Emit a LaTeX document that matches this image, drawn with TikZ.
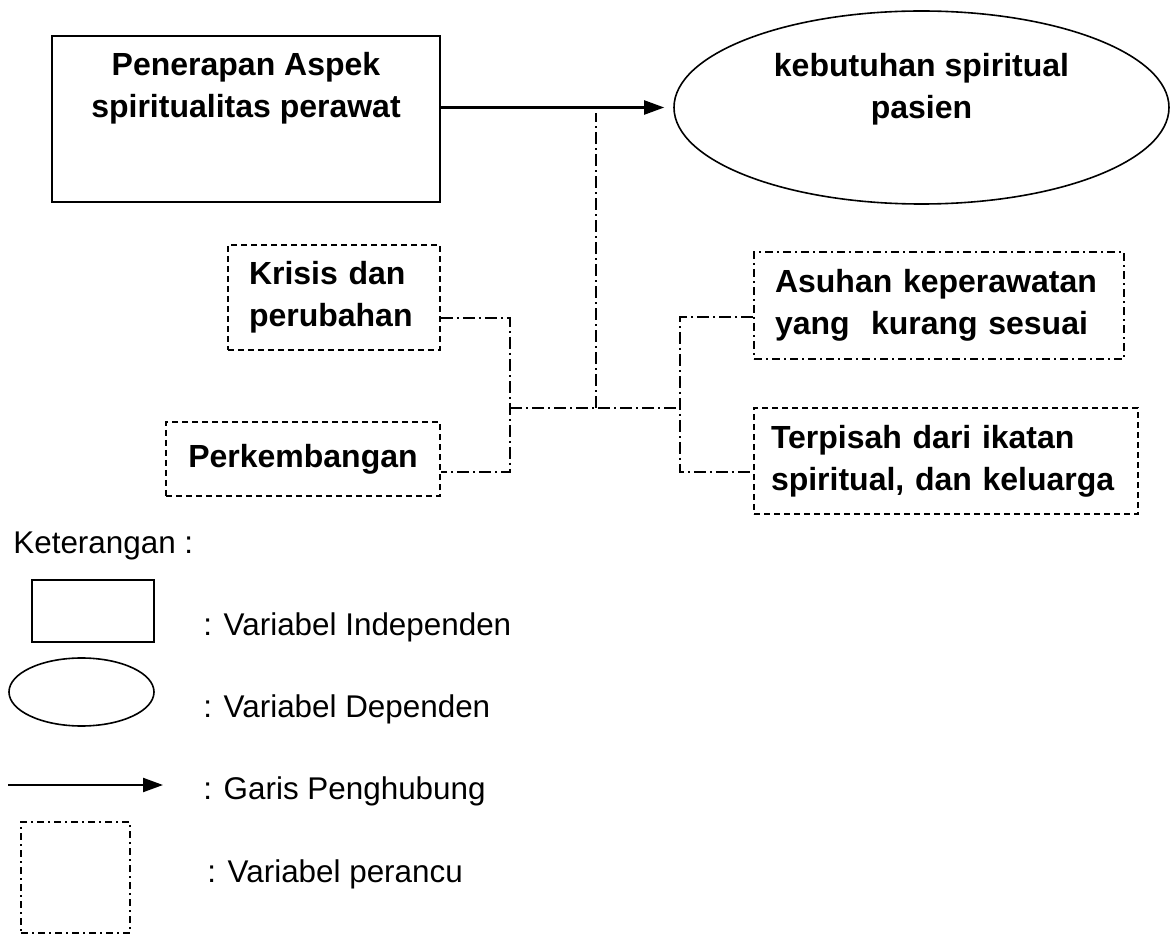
\documentclass[tikz,border=0pt]{standalone}
\usepackage{fontspec}
\setmainfont{Liberation Sans}
\usetikzlibrary{positioning,shapes.geometric,arrows.meta}

\tikzset{
    boxtext/.style={font=\bfseries\fontsize{16}{21}\selectfont, inner sep=0pt},
    legtext/.style={font=\fontsize{15.7}{19}\selectfont, inner sep=0pt, anchor=base west},
    dashbox/.style={draw, line width=0.9pt, dash pattern=on 3pt off 2pt,
        font=\bfseries\fontsize{16}{21}\selectfont, inner ysep=0pt, inner xsep=10.5pt},
    dotbox/.style={draw, line width=0.9pt, dash pattern=on 4pt off 2pt on 1pt off 2pt,
        font=\bfseries\fontsize{16}{21}\selectfont, inner ysep=0pt, inner xsep=10.5pt},
    dashdot/.style={line width=0.9pt, dash pattern=on 6pt off 2pt on 1pt off 2pt},
    link/.style={line width=1.1pt, -{Triangle[length=10pt,width=7pt]}}
}

\begin{document}
\begin{tikzpicture}[x=0.5pt, y=-0.5pt]
    \useasboundingbox (0,0) rectangle (1174,936);
    % Independent and dependent variables
    \node[draw, line width=1pt, minimum width=194pt, minimum height=83pt] (main) at (246,119) {};
    \node[boxtext, align=center, below=8.5pt of main.north] (maintext) {Penerapan Aspek\\spiritualitas perawat};
    \node[draw, ellipse, line width=0.8pt, minimum width=247.5pt, minimum height=96.5pt] (dep) at (921.5,107.5) {};
    \node[boxtext, align=center, below=21.5pt of dep.north] (deptext) {kebutuhan spiritual\\pasien};
    \draw[link, shorten >=4.5pt] (main.east |- dep.west) -- (dep.west);
    % Confounding variables
    \node[dashbox, text width=85pt, align=left, minimum width=106pt, minimum height=52.5pt] (krisis) at (334,297.5) {Krisis dan\\perubahan};
    \node[dashbox, align=center, minimum width=137pt, minimum height=37pt] (perk) at (303,459) {Perkembangan};
    \node[dotbox, text width=164pt, align=left, minimum width=185pt, minimum height=53.5pt] (asuhan) at (939,305.5) {Asuhan keperawatan\\yang \ kurang sesuai};
    \node[dashbox, text width=175pt, inner xsep=8.5pt, align=left, minimum width=192pt, minimum height=53pt] (pisah) at (946,461) {Terpisah dari ikatan\\spiritual, dan keluarga};
    % Dash-dot connectors
    \coordinate (jl) at (510,408);
    \coordinate (jm) at (596,408);
    \coordinate (jr) at (680,408);
    \coordinate (jt) at (596,113);
    \draw[dashdot] ([yshift=-10.25pt]krisis.east) -| (jl) |- ([yshift=-6.5pt]perk.east);
    \draw[dashdot] (jl) -- (jr);
    \draw[dashdot] (jm) -- (jt);
    \draw[dashdot] ([yshift=-5.75pt]asuhan.west) -| (jr) |- ([yshift=-5.5pt]pisah.west);
    % Legend
    \node[legtext] (ket) at (13,553) {Keterangan :};
    \node[draw, line width=0.8pt, minimum width=61pt, minimum height=31pt] (legbox) at (93,611) {};
    \node[draw, ellipse, line width=0.8pt, minimum width=72.5pt, minimum height=34pt] (legell) at (81.5,692) {};
    \coordinate (arra) at (8,785);
    \coordinate (arrb) at (163,785);
    \draw[link] (arra) -- (arrb);
    \node[draw, line width=0.8pt, dash pattern=on 3.5pt off 2pt on 1pt off 2pt, minimum width=54.5pt, minimum height=55.5pt] (legdot) at (75.5,877.5) {};
    \node[legtext] (l1) at (203,635) {: Variabel Independen};
    \node[legtext] (l2) at (203,717) {: Variabel Dependen};
    \node[legtext] (l3) at (203,799) {: Garis Penghubung};
    \node[legtext] (l4) at (207,882) {: Variabel perancu};
\end{tikzpicture}
\end{document}
